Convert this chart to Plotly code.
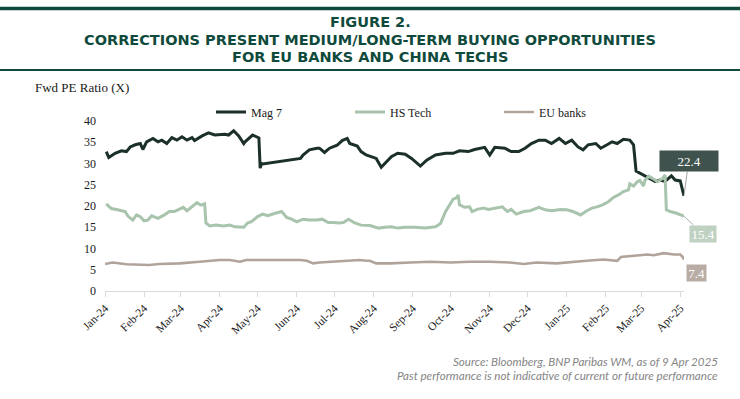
import plotly.graph_objects as go

# ---------------- data ----------------
series_names = ["Mag 7", "HS Tech", "EU banks"]

mag7_dates = [
    "2024-01-02", "2024-01-04", "2024-01-09", "2024-01-14", "2024-01-18", "2024-01-21",
    "2024-01-25", "2024-01-29", "2024-01-31", "2024-02-03", "2024-02-08", "2024-02-12",
    "2024-02-15", "2024-02-19", "2024-02-23", "2024-02-27", "2024-03-02", "2024-03-06",
    "2024-03-10", "2024-03-12", "2024-03-18", "2024-03-23", "2024-03-28", "2024-04-05",
    "2024-04-08", "2024-04-12", "2024-04-16", "2024-04-20", "2024-04-21", "2024-04-27",
    "2024-04-30", "2024-05-02", "2024-05-03", "2024-05-04", "2024-05-05", "2024-05-15",
    "2024-05-23", "2024-05-29", "2024-06-04", "2024-06-06", "2024-06-11", "2024-06-17",
    "2024-06-19", "2024-06-23", "2024-06-27", "2024-07-03", "2024-07-07", "2024-07-11",
    "2024-07-13", "2024-07-19", "2024-07-22", "2024-07-26", "2024-07-30", "2024-08-03",
    "2024-08-07", "2024-08-10", "2024-08-15", "2024-08-20", "2024-08-26", "2024-08-31",
    "2024-09-07", "2024-09-12", "2024-09-19", "2024-09-27", "2024-10-03", "2024-10-08",
    "2024-10-15", "2024-10-20", "2024-10-28", "2024-11-01", "2024-11-05", "2024-11-13",
    "2024-11-18", "2024-11-24", "2024-11-29", "2024-12-04", "2024-12-10", "2024-12-15",
    "2024-12-20", "2024-12-26", "2024-12-31", "2025-01-05", "2025-01-10", "2025-01-14",
    "2025-01-18", "2025-01-24", "2025-01-28", "2025-02-02", "2025-02-06", "2025-02-10",
    "2025-02-15", "2025-02-20", "2025-02-23", "2025-02-25", "2025-02-28", "2025-03-04",
    "2025-03-08", "2025-03-12", "2025-03-16", "2025-03-20", "2025-03-25", "2025-03-28",
    "2025-04-01", "2025-04-02", "2025-04-04",
]
mag7_values = [
    32.8, 31.4, 32.4, 33.0, 32.8, 33.9,
    34.4, 34.7, 33.3, 35.1, 35.9, 35.1,
    35.5, 34.7, 36.1, 35.5, 36.3, 35.5,
    36.1, 35.4, 36.5, 37.2, 36.7, 36.9,
    36.7, 37.7, 36.5, 34.7, 35.1, 36.7,
    36.3, 36.0, 28.9, 30.0, 29.9, 30.3,
    30.7, 31.0, 31.2, 32.0, 33.2, 33.6,
    33.6, 32.6, 33.6, 34.3, 35.4, 35.9,
    34.7, 34.1, 32.8, 32.0, 31.6, 31.2,
    29.1, 30.0, 31.6, 32.4, 32.2, 31.2,
    29.4, 30.8, 32.0, 32.4, 32.4, 33.0,
    32.8, 33.3, 33.8, 32.0, 33.8, 33.6,
    32.8, 32.8, 33.6, 34.7, 35.5, 35.5,
    34.7, 35.9, 34.7, 35.5, 33.9, 33.2,
    34.4, 34.7, 33.6, 34.4, 35.1, 34.7,
    35.7, 35.5, 34.4, 28.2, 27.7, 27.0,
    26.5, 25.8, 26.1, 25.8, 27.1, 26.1,
    25.9, 24.5, 22.4,
]

hstech_dates = [
    "2024-01-02", "2024-01-06", "2024-01-11", "2024-01-17", "2024-01-19", "2024-01-23",
    "2024-01-26", "2024-01-29", "2024-02-01", "2024-02-04", "2024-02-07", "2024-02-12",
    "2024-02-17", "2024-02-21", "2024-02-25", "2024-02-28", "2024-03-03", "2024-03-06",
    "2024-03-10", "2024-03-14", "2024-03-17", "2024-03-20", "2024-03-21", "2024-03-24",
    "2024-03-29", "2024-04-04", "2024-04-09", "2024-04-13", "2024-04-20", "2024-04-23",
    "2024-04-26", "2024-05-01", "2024-05-05", "2024-05-09", "2024-05-15", "2024-05-20",
    "2024-05-24", "2024-05-28", "2024-06-01", "2024-06-06", "2024-06-11", "2024-06-17",
    "2024-06-21", "2024-06-26", "2024-06-30", "2024-07-04", "2024-07-08", "2024-07-12",
    "2024-07-17", "2024-07-22", "2024-07-29", "2024-08-05", "2024-08-10", "2024-08-15",
    "2024-08-20", "2024-08-26", "2024-09-03", "2024-09-11", "2024-09-19", "2024-09-23",
    "2024-09-27", "2024-10-01", "2024-10-03", "2024-10-06", "2024-10-07", "2024-10-08",
    "2024-10-12", "2024-10-16", "2024-10-18", "2024-10-22", "2024-10-27", "2024-10-31",
    "2024-11-05", "2024-11-11", "2024-11-15", "2024-11-18", "2024-11-22", "2024-11-28",
    "2024-12-03", "2024-12-10", "2024-12-15", "2024-12-20", "2024-12-27", "2025-01-01",
    "2025-01-06", "2025-01-12", "2025-01-17", "2025-01-21", "2025-01-25", "2025-01-29",
    "2025-02-03", "2025-02-07", "2025-02-11", "2025-02-15", "2025-02-19", "2025-02-20",
    "2025-02-23", "2025-02-26", "2025-02-28", "2025-03-03", "2025-03-04", "2025-03-07",
    "2025-03-10", "2025-03-14", "2025-03-18", "2025-03-20", "2025-03-21", "2025-03-24",
    "2025-03-29", "2025-04-04",
]
hstech_values = [
    20.5, 19.4, 19.1, 18.7, 17.7, 16.7,
    17.9, 17.5, 16.5, 16.7, 17.7, 17.1,
    17.9, 18.7, 18.7, 19.2, 19.7, 18.9,
    19.8, 20.8, 20.2, 20.5, 16.0, 15.3,
    15.5, 15.3, 15.5, 15.1, 15.0, 16.0,
    16.3, 17.5, 18.1, 17.7, 18.3, 18.7,
    17.3, 16.9, 16.3, 16.9, 16.7, 16.7,
    16.9, 16.1, 16.1, 16.0, 16.1, 16.9,
    16.0, 15.5, 15.4, 14.8, 15.0, 15.1,
    14.8, 15.0, 15.0, 14.8, 15.1, 15.9,
    18.7, 20.6, 21.6, 22.0, 22.6, 20.3,
    19.7, 19.8, 18.7, 19.2, 19.5, 19.2,
    19.5, 19.8, 18.7, 19.2, 18.1, 18.7,
    18.9, 19.7, 19.1, 18.9, 19.2, 19.1,
    18.7, 17.9, 18.9, 19.5, 19.8, 20.2,
    21.0, 22.0, 22.6, 23.4, 23.8, 25.2,
    24.7, 25.7, 26.0, 24.7, 26.0, 27.0,
    26.5, 25.7, 26.5, 27.3, 19.1, 18.7,
    18.3, 17.6,
]

eubanks_dates = [
    "2024-01-01", "2024-01-07", "2024-01-18", "2024-01-29", "2024-02-05", "2024-02-13",
    "2024-02-29", "2024-03-16", "2024-04-01", "2024-04-09", "2024-04-17", "2024-04-22",
    "2024-05-05", "2024-05-19", "2024-05-27", "2024-06-04", "2024-06-09", "2024-06-14",
    "2024-06-19", "2024-06-30", "2024-07-11", "2024-07-21", "2024-07-26", "2024-07-29",
    "2024-08-03", "2024-08-14", "2024-08-30", "2024-09-15", "2024-10-01", "2024-10-16",
    "2024-11-01", "2024-11-17", "2024-11-28", "2024-12-08", "2024-12-24", "2025-01-04",
    "2025-01-17", "2025-01-30", "2025-02-10", "2025-02-13", "2025-02-26", "2025-03-06",
    "2025-03-11", "2025-03-19", "2025-03-27", "2025-04-01", "2025-04-03", "2025-04-04",
]
eubanks_values = [
    6.35, 6.7, 6.3, 6.1, 6.1, 6.35,
    6.5, 6.9, 7.3, 7.3, 6.9, 7.3,
    7.3, 7.4, 7.3, 7.3, 7.1, 6.5,
    6.7, 6.9, 7.1, 7.3, 7.1, 7.1,
    6.5, 6.5, 6.7, 6.9, 6.7, 6.9,
    6.9, 6.7, 6.35, 6.7, 6.5, 6.7,
    7.1, 7.4, 7.1, 8.0, 8.4, 8.6,
    8.4, 8.9, 8.6, 8.6, 8.0, 7.4,
]

end_labels = ["22.4", "15.4", "7.4"]
x_ticks = ["2024-01-01", "2024-02-01", "2024-03-01", "2024-04-01", "2024-05-01",
           "2024-06-01", "2024-07-01", "2024-08-01", "2024-09-01", "2024-10-01",
           "2024-11-01", "2024-12-01", "2025-01-01", "2025-02-01", "2025-03-01",
           "2025-04-01"]
x_tick_labels = ["Jan-24", "Feb-24", "Mar-24", "Apr-24", "May-24", "Jun-24", "Jul-24",
                 "Aug-24", "Sep-24", "Oct-24", "Nov-24", "Dec-24", "Jan-25", "Feb-25",
                 "Mar-25", "Apr-25"]
y_ticks = [0, 5, 10, 15, 20, 25, 30, 35, 40]

# ---------------- styling ----------------
W, H = 740, 399
ML, MR, MT, MB = 105, 56, 121, 108
PW = W - ML - MR
PH = H - MT - MB

def px_x(px):
    return (px - ML) / PW

def px_y(py):
    return (H - MB - py) / PH

SERIF = "Liberation Serif"
TITLE_COLOR = "#0f4a3c"
colors = ["#1b3029", "#a9c4ad", "#b0a39b"]
box_colors = ["#3f524d", "#bfd2c2", "#b9aca5"]
widths = [3, 3, 2.6]

fig = go.Figure()
all_dates = [mag7_dates, hstech_dates, eubanks_dates]
all_values = [mag7_values, hstech_values, eubanks_values]
legend_ids = ["legend", "legend2", "legend3"]
for i in range(3):
    fig.add_trace(go.Scatter(
        x=all_dates[i], y=all_values[i], mode="lines", name=series_names[i],
        line=dict(color=colors[i], width=widths[i]),
        legend=legend_ids[i], hoverinfo="x+y+name",
    ))

legend_px = [211, 350, 499]
legend_common = dict(orientation="h", yanchor="middle", xanchor="left",
                     font=dict(family=SERIF, size=12, color="#1a1a1a"),
                     bgcolor="rgba(0,0,0,0)", borderwidth=0, itemwidth=30)

fig.update_layout(
    width=W, height=H, autosize=False,
    margin=dict(l=ML, r=MR, t=MT, b=MB, pad=0, autoexpand=False),
    paper_bgcolor="white", plot_bgcolor="white",
    legend=dict(x=px_x(legend_px[0]), y=px_y(112), **legend_common),
    legend2=dict(x=px_x(legend_px[1]), y=px_y(112), **legend_common),
    legend3=dict(x=px_x(legend_px[2]), y=px_y(112), **legend_common),
    xaxis=dict(
        type="date", range=["2024-01-01", "2025-04-04"],
        tickmode="array", tickvals=x_ticks, ticktext=x_tick_labels,
        tickangle=-45, tickfont=dict(family=SERIF, size=11.5, color="#1a1a1a"),
        showgrid=False, zeroline=False, automargin=False,
        showline=True, linecolor="#d9d9d9", linewidth=1,
        ticks="outside", ticklen=5, tickcolor="#d9d9d9", tickwidth=1,
    ),
    yaxis=dict(
        range=[0, 40], tickmode="array", tickvals=y_ticks,
        tickfont=dict(family=SERIF, size=12, color="#1a1a1a"),
        showgrid=False, zeroline=False, showline=False, ticks="",
        ticklabelstandoff=8, automargin=False,
    ),
    showlegend=True,
)

# header rules
fig.add_shape(type="line", xref="paper", yref="paper", x0=px_x(0), x1=px_x(W),
              y0=px_y(8.5), y1=px_y(8.5), line=dict(color=TITLE_COLOR, width=3.5))
fig.add_shape(type="line", xref="paper", yref="paper", x0=px_x(0), x1=px_x(W),
              y0=px_y(70), y1=px_y(70), line=dict(color=TITLE_COLOR, width=2))

title_lines = ["FIGURE 2.",
               "CORRECTIONS PRESENT MEDIUM/LONG-TERM BUYING OPPORTUNITIES",
               "FOR EU BANKS AND CHINA TECHS"]
title_y = [22, 40, 57]
for t, ty in zip(title_lines, title_y):
    fig.add_annotation(text="<b>" + t + "</b>", xref="paper", yref="paper",
                       x=px_x(W / 2), y=px_y(ty), xanchor="center", yanchor="middle",
                       showarrow=False,
                       font=dict(family="DejaVu Sans", size=14.5, color=TITLE_COLOR))

fig.add_annotation(text="Fwd PE Ratio (X)", xref="paper", yref="paper",
                   x=px_x(33), y=px_y(87), xanchor="left", yanchor="middle",
                   showarrow=False, font=dict(family=SERIF, size=13, color="#1a1a1a"))

source_lines = ["Source: Bloomberg, BNP Paribas WM, as of 9 Apr 2025",
                "Past performance is not indicative of current or future performance"]
for s, sy in zip(source_lines, [361, 375]):
    fig.add_annotation(text="<i>" + s + "</i>", xref="paper", yref="paper",
                       x=px_x(720), y=px_y(sy), xanchor="right", yanchor="middle",
                       showarrow=False, font=dict(family="Lato", size=11.6, color="#858585"))

# end-value labels
label_offsets = [(4.7, -34.8), (18.7, 17.3), (12.2, 13.0)]
label_sizes = [(52, 14, 3), (22, 12, 2), (15, 12, 2)]
arrow_colors = ["#8c8c8c", "#9a9a9a", "rgba(0,0,0,0)"]
for i in range(3):
    ax, ay = label_offsets[i]
    w, h, bp = label_sizes[i]
    fig.add_annotation(
        x=all_dates[i][-1], y=all_values[i][-1], xref="x", yref="y",
        text=end_labels[i], showarrow=True, ax=ax, ay=ay,
        arrowhead=0, arrowwidth=0.8, arrowcolor=arrow_colors[i], standoff=0,
        bgcolor=box_colors[i], width=w, height=h, borderpad=bp,
        font=dict(family=SERIF, size=13, color="white"),
    )

fig.write_html("out.html", config={"displayModeBar": False},
               post_script="document.body.style.margin='0';document.body.style.padding='0';")
